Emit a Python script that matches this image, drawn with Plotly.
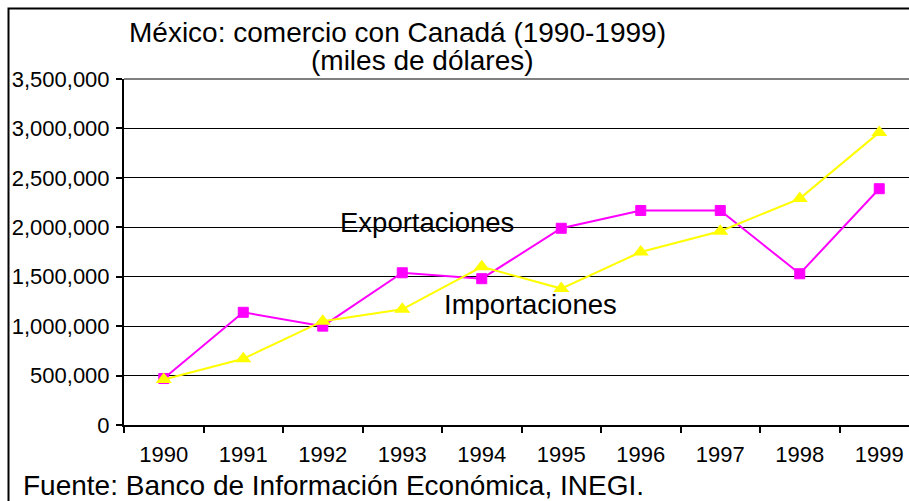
import plotly.graph_objects as go

years = ["1990", "1991", "1992", "1993", "1994", "1995", "1996", "1997", "1998", "1999"]
exportaciones = [470000, 1140000, 1000000, 1540000, 1480000, 1990000, 2170000, 2170000, 1530000, 2390000]
importaciones = [460000, 670000, 1050000, 1170000, 1600000, 1380000, 1750000, 1960000, 2290000, 2960000]

title1 = "México: comercio con Canadá (1990-1999)"
title2 = "(miles de dólares)"
source = "Fuente: Banco de Información Económica, INEGI."

FONT = "Liberation Sans, Arial, sans-serif"

fig = go.Figure()
fig.add_trace(go.Scatter(
    x=years, y=exportaciones, mode="lines+markers", name="Exportaciones",
    line=dict(color="#FF00FF", width=2),
    marker=dict(symbol="square", size=10, color="#FF00FF",
                line=dict(color="#FF00FF", width=1)),
))
fig.add_trace(go.Scatter(
    x=years, y=importaciones, mode="lines+markers", name="Importaciones",
    line=dict(color="#FFFF00", width=2),
    marker=dict(symbol="triangle-up", size=14, color="#FFFF00"),
))

W, H = 909, 501
L, T, B_page = 124, 79, 425
B = H - B_page
pw = W - L
ph = H - T - B
cat_w = 79.5

def px_x(x):
    return (x - L) / pw

def px_y(y):
    return (B_page - y) / ph

fig.update_layout(
    width=W, height=H,
    margin=dict(l=L, r=0, t=T, b=B, pad=0),
    paper_bgcolor="white", plot_bgcolor="white",
    showlegend=False,
    font=dict(family=FONT, color="black"),
    xaxis=dict(
        type="category", range=[-0.5, -0.5 + pw / cat_w],
        tickson="boundaries", ticks="outside", ticklen=6, tickwidth=2, tickcolor="black",
        showgrid=False, showline=True, linecolor="black", linewidth=2,
        tickfont=dict(size=22, family=FONT, color="black"),
        ticklabelstandoff=9,
    ),
    yaxis=dict(
        range=[0, 3500000], dtick=500000, tickformat=",d",
        ticks="outside", ticklen=6, tickwidth=2, tickcolor="black",
        showgrid=True, gridcolor="black", gridwidth=1,
        zeroline=False, showline=True, linecolor="black", linewidth=2,
        tickfont=dict(size=22, family=FONT, color="black"),
        ticklabelstandoff=2,
    ),
    shapes=[
        dict(type="line", xref="paper", yref="paper", x0=0, x1=1.2, y0=1, y1=1,
             line=dict(color="#808080", width=2), layer="above"),
        dict(type="rect", xref="paper", yref="paper",
             x0=px_x(8.5), x1=1.3, y0=-0.6, y1=px_y(8.5),
             line=dict(color="black", width=2), layer="above"),
    ],
    annotations=[
        dict(text=title1, xref="paper", yref="paper", x=px_x(397), y=px_y(33),
             xanchor="center", yanchor="middle", showarrow=False,
             font=dict(size=28, family=FONT, color="black")),
        dict(text=title2, xref="paper", yref="paper", x=px_x(422), y=px_y(60),
             xanchor="center", yanchor="middle", showarrow=False,
             font=dict(size=28, family=FONT, color="black")),
        dict(text="Exportaciones", xref="paper", yref="paper", x=px_x(427), y=px_y(222),
             xanchor="center", yanchor="middle", showarrow=False,
             font=dict(size=27.5, family=FONT, color="black")),
        dict(text="Importaciones", xref="paper", yref="paper", x=px_x(530), y=px_y(304),
             xanchor="center", yanchor="middle", showarrow=False,
             font=dict(size=27.5, family=FONT, color="black")),
        dict(text=source, xref="paper", yref="paper", x=px_x(21), y=px_y(485),
             xanchor="left", yanchor="middle", showarrow=False,
             font=dict(size=28, family=FONT, color="black")),
    ],
)

fig.write_html(
    "out.html",
    config={"displayModeBar": False},
    post_script="document.body.style.margin='0';document.body.style.overflow='hidden';",
)
